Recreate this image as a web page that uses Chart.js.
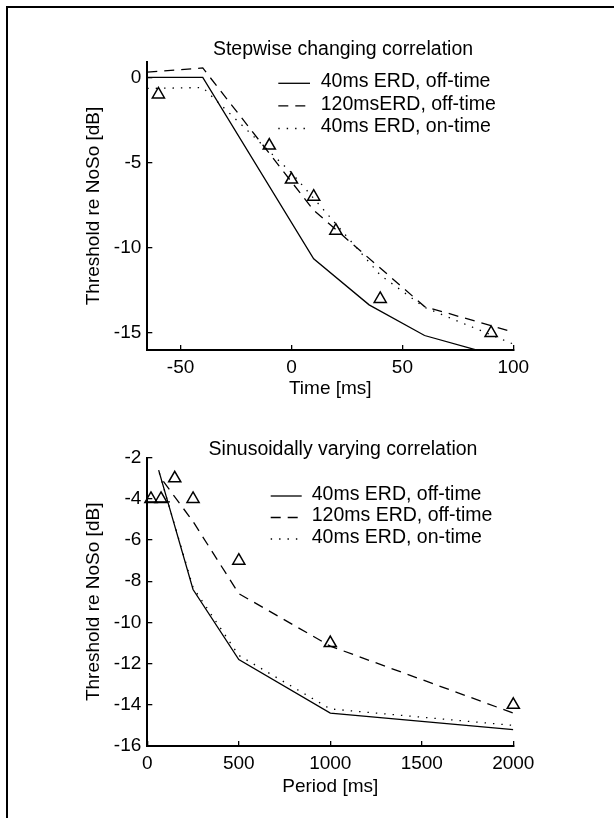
<!DOCTYPE html>
<html><head><meta charset="utf-8">
<script src="https://cdn.jsdelivr.net/npm/chart.js@4/dist/chart.umd.min.js"></script>
<style>
html,body{margin:0;padding:0;background:#fff;width:614px;height:818px;overflow:hidden;}
#frame{position:absolute;left:6px;top:6px;width:700px;height:900px;border-top:2px solid #000;border-left:2px solid #000;}
canvas{position:absolute;left:0;}
#c1{top:0}
#c2{top:409px}
</style></head><body>
<div id="frame"></div>
<canvas id="c1" width="614" height="409"></canvas>
<canvas id="c2" width="614" height="409"></canvas>
<script>
const FONT = '"Liberation Sans", Arial, Helvetica, sans-serif';
const FS = 19;      // ticks and axis titles
const FS_TXT = 19.5; // panel titles and legends

// ---------- Top panel: stepwise changing correlation ----------
const stepTitle = 'Stepwise changing correlation';
const stepXLabel = 'Time [ms]';
const stepYLabel = 'Threshold re NoSo [dB]';
const stepTicksX = [-50, 0, 50, 100];
const stepTicksY = [-15, -10, -5, 0];
const stepSolidT = [-65, -40, 10, 35, 60, 100];
const stepSolidV = [0, 0, -10.65, -13.35, -15.15, -16.6];
const stepDashT = [-65, -40, 10, 60, 100];
const stepDashV = [0.3, 0.55, -7.8, -13.45, -14.95];
const stepDotT = [-65, -40, 0, 20, 40, 60, 100];
const stepDotV = [-0.65, -0.6, -5.6, -8.6, -11.6, -13.5, -15.65];
const stepObsT = [-60, -10, 0, 10, 20, 40, 90];
const stepObsV = [-1, -4, -6, -7, -9, -13, -15];
const stepLegend = ['40ms ERD, off-time', '120msERD, off-time', '40ms ERD, on-time'];

// ---------- Bottom panel: sinusoidally varying correlation ----------
const sinTitle = 'Sinusoidally varying correlation';
const sinXLabel = 'Period [ms]';
const sinYLabel = 'Threshold re NoSo [dB]';
const sinTicksX = [0, 500, 1000, 1500, 2000];
const sinTicksY = [-16, -14, -12, -10, -8, -6, -4, -2];
const sinSolidP = [62, 250, 500, 1000, 2000];
const sinSolidV = [-2.6, -8.4, -11.8, -14.4, -15.2];
const sinDashP = [88, 125, 250, 500, 1000, 2000];
const sinDashV = [-3.15, -3.6, -5.1, -8.6, -11.15, -14.4];
const sinDotP = [66, 250, 500, 1000, 2000];
const sinDotV = [-2.75, -8.3, -11.6, -14.2, -15.0];
const sinFlatP = [0, 124];
const sinFlatV = [-4.15, -4.15];
const sinObsP = [20, 75, 150, 250, 500, 1000, 2000];
const sinObsV = [-4, -4, -3, -4, -7, -11, -14];
const sinLegend = ['40ms ERD, off-time', '120ms ERD, off-time', '40ms ERD, on-time'];

const pts = (xs, ys) => xs.map((x, i) => ({x, y: ys[i]}));

const decor = {
  id: 'decor',
  afterDraw(chart, args, o) {
    const {ctx, chartArea} = chart;
    ctx.save();
    ctx.fillStyle = '#000';
    ctx.font = o.fontSize + 'px ' + FONT;
    ctx.textAlign = 'center';
    ctx.textBaseline = 'middle';
    ctx.fillText(o.title, o.titleX, chartArea.top + o.titleDy);
    ctx.textAlign = 'left';
    let i = 0;
    chart.data.datasets.forEach(ds => {
      if (!ds.inLegend) return;
      const y = chartArea.top + o.legendDy + i * o.legendGap;
      ctx.beginPath();
      ctx.setLineDash(ds.borderDash || []);
      ctx.lineWidth = ds.borderWidth;
      ctx.strokeStyle = ds.borderColor;
      ctx.moveTo(o.sampleX1, y);
      ctx.lineTo(o.sampleX2, y);
      ctx.stroke();
      ctx.setLineDash([]);
      ctx.fillText(ds.label, o.textX, y - 1.5);
      i++;
    });
    ctx.restore();
  }
};

function lineDs(label, data, dash, inLegend) {
  return {
    type: 'line', label, data, inLegend,
    borderColor: '#000', borderWidth: 1.3, borderDash: dash,
    pointRadius: 0, fill: false, tension: 0
  };
}
function obsDs(data) {
  return {
    type: 'scatter', label: 'data', data, inLegend: false,
    pointStyle: 'triangle', pointRadius: 7, pointHoverRadius: 7,
    pointBorderWidth: 1.5, borderColor: '#000', backgroundColor: 'rgba(0,0,0,0)',
    showLine: false, clip: false
  };
}

function makeScales(xMin, xMax, xTicks, yMin, yMax, yTicks, xLabel, yLabel, xAxisH, xTitlePad) {
  const grid = {display: true, drawOnChartArea: false, drawTicks: true, tickLength: -5, color: '#000', lineWidth: 1.3};
  const border = {display: true, color: '#000', width: 2};
  const font = {family: FONT, size: FS};
  return {
    x: {
      type: 'linear', position: 'bottom', min: xMin, max: xMax,
      afterBuildTicks: ax => { ax.ticks = xTicks.map(v => ({value: v})); },
      afterFit: ax => { ax.height = xAxisH; },
      grid, border,
      ticks: {color: '#000', font, padding: 11.5, maxRotation: 0, autoSkip: false, callback: v => String(v)},
      title: {display: true, text: xLabel, color: '#000', font, padding: {top: 0, bottom: xTitlePad}}
    },
    y: {
      type: 'linear', position: 'left', min: yMin, max: yMax,
      afterBuildTicks: ax => { ax.ticks = yTicks.map(v => ({value: v})); },
      afterFit: ax => { ax.width = 147.3; },
      grid, border,
      ticks: {color: '#000', font, padding: 11, callback: v => String(v)},
      title: {display: true, text: yLabel, color: '#000', font, padding: {top: 82.6, bottom: 0}}
    }
  };
}

Chart.defaults.animation = false;

new Chart(document.getElementById('c1'), {
  data: {
    datasets: [
      lineDs(stepLegend[0], pts(stepSolidT, stepSolidV), [], true),
      lineDs(stepLegend[1], pts(stepDashT, stepDashV), [10, 7], true),
      lineDs(stepLegend[2], pts(stepDotT, stepDotV), [1.4, 7], true),
      obsDs(pts(stepObsT, stepObsV))
    ]
  },
  options: {
    responsive: false, devicePixelRatio: 1, animation: false,
    layout: {padding: {left: 0, right: 100.7, top: 62, bottom: 4}},
    scales: makeScales(-65, 100, stepTicksX, -16, 0.9, stepTicksY, stepXLabel, stepYLabel, 55, 4.6),
    plugins: {
      legend: {display: false}, tooltip: {enabled: false},
      decor: {title: stepTitle, titleX: 343, titleDy: -12, fontSize: FS_TXT,
              legendDy: 21.3, legendGap: 22.6, sampleX1: 278.3, sampleX2: 310, textX: 320.7}
    }
  },
  plugins: [decor]
});

new Chart(document.getElementById('c2'), {
  data: {
    datasets: [
      lineDs(sinLegend[0], pts(sinSolidP, sinSolidV), [], true),
      lineDs(sinLegend[1], pts(sinDashP, sinDashV), [10, 7], true),
      lineDs(sinLegend[2], pts(sinDotP, sinDotV), [1.4, 7], true),
      lineDs('flat', pts(sinFlatP, sinFlatV), [], false),
      obsDs(pts(sinObsP, sinObsV))
    ]
  },
  options: {
    responsive: false, devicePixelRatio: 1, animation: false,
    layout: {padding: {left: 0, right: 100.7, top: 48.7, bottom: 17}},
    scales: makeScales(0, 2000, sinTicksX, -16, -2, sinTicksY, sinXLabel, sinYLabel, 55, 2.9),
    plugins: {
      legend: {display: false}, tooltip: {enabled: false},
      decor: {title: sinTitle, titleX: 343, titleDy: -7.7, fontSize: FS_TXT,
              legendDy: 38.3, legendGap: 21.5, sampleX1: 270.7, sampleX2: 301.7, textX: 311.7}
    }
  },
  plugins: [decor]
});
</script>
</body></html>
